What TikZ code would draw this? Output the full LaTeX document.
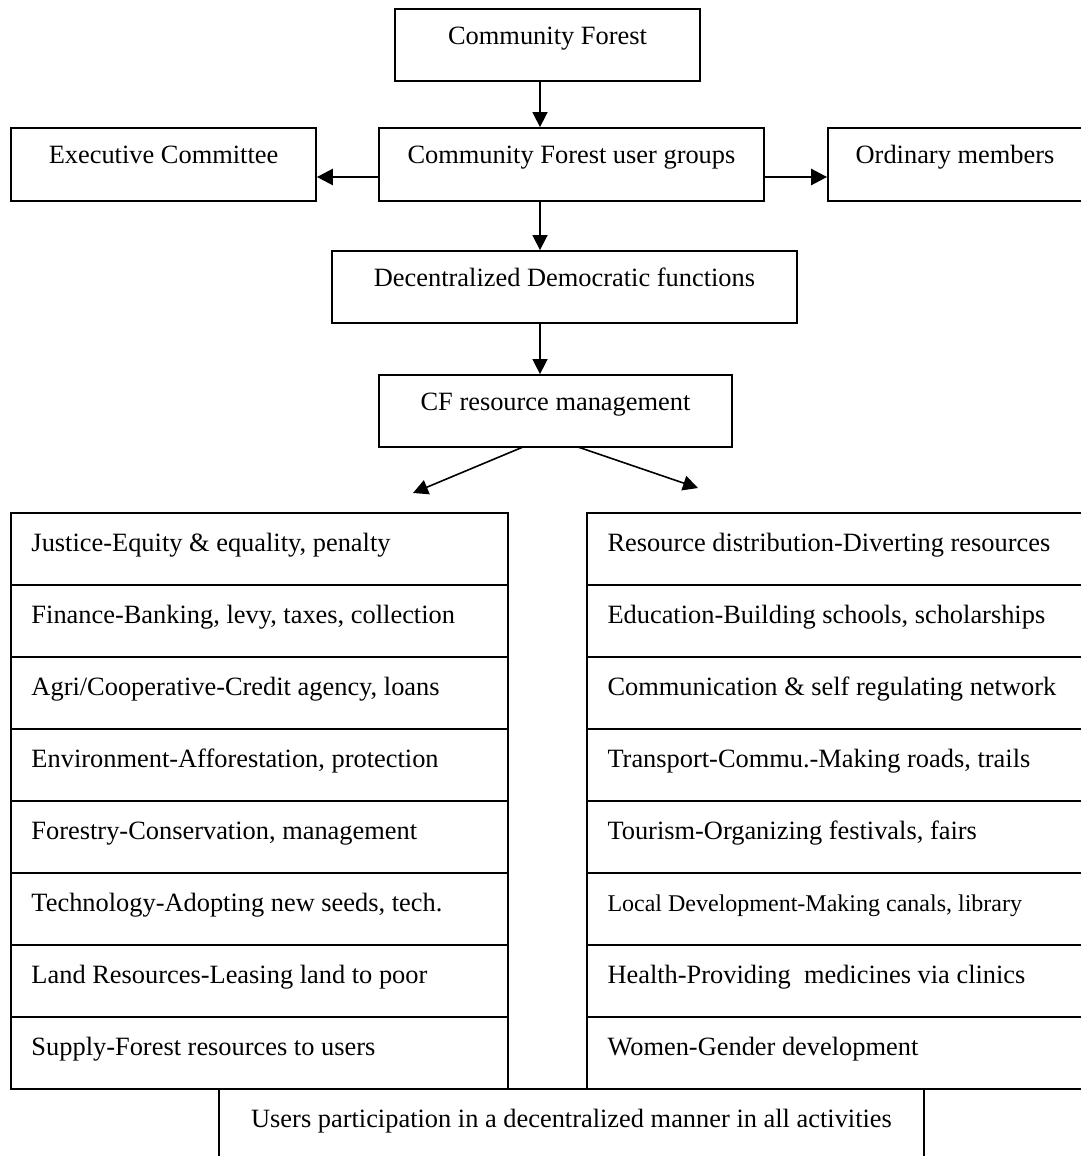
\documentclass[tikz,border=0pt]{standalone}
\usepackage{fontspec}
\setmainfont{Liberation Serif}
\usetikzlibrary{arrows.meta,fit,calc}
\begin{document}
\begin{tikzpicture}[x=0.5pt,y=-0.5pt,
  box/.style={draw, line width=0.9pt, inner sep=0pt, rectangle},
  txt/.style={anchor=base, inner sep=0pt, font=\fontsize{13.2}{15}\selectfont},
  rowtxt/.style={anchor=base west, inner sep=0pt, font=\fontsize{13.2}{15}\selectfont},
  smalltxt/.style={rowtxt, font=\fontsize{12}{14}\selectfont},
  arr/.style={-{Triangle[length=7.5pt,width=7.5pt]}, line width=0.8pt},
  sidearr/.style={-{Triangle[length=8pt,width=8pt]}, line width=1.3pt}]
\useasboundingbox (0,0) rectangle (1081,1156);

% upper chain of boxes
\node[box, fit={(395,9) (700,81)}] (cf) {};
\node[txt] (cft) at ($(cf.north)+(0,36)$) {Community Forest};
\node[box, fit={(11,128) (316,201)}] (ec) {};
\node[txt] (ect) at ($(ec.north)+(0,36)$) {Executive Committee};
\node[box, fit={(379,128) (764,201)}] (ug) {};
\node[txt] (ugt) at ($(ug.north)+(0,36)$) {Community Forest user groups};
\node[box, fit={(828,128) (1082,201)}] (om) {};
\node[txt] (omt) at ($(om.north)+(0,36)$) {Ordinary members};
\node[box, fit={(332,251) (797,323)}] (ddf) {};
\node[txt] (ddft) at ($(ddf.north)+(0,36)$) {Decentralized Democratic functions};
\node[box, fit={(379,375) (732,447)}] (crm) {};
\node[txt] (crmt) at ($(crm.north)+(0,36)$) {CF resource management};

% connectors
\coordinate (axis) at (540,0);
\draw[arr] (cf.south -| axis) -- (ug.north -| axis);
\draw[arr] (ug.south -| axis) -- (ddf.north -| axis);
\draw[arr] (ddf.south -| axis) -- (crm.north -| axis);
\coordinate (ay) at (0,177);
\draw[sidearr] (ug.west |- ay) -- (ec.east |- ay);
\draw[sidearr] (ug.east |- ay) -- (om.west |- ay);
\coordinate (ls) at (523,447);
\coordinate (le) at (413,493);
\coordinate (rs) at (578,447);
\coordinate (re) at (698,488);
\draw[arr] (ls) -- (le);
\draw[arr] (rs) -- (re);

% left column of activities
\node[box, fit={(11,513) (508,585)}] (l1) {};
\node[box, fit={(11,585) (508,657)}] (l2) {};
\node[box, fit={(11,657) (508,729)}] (l3) {};
\node[box, fit={(11,729) (508,801)}] (l4) {};
\node[box, fit={(11,801) (508,873)}] (l5) {};
\node[box, fit={(11,873) (508,945)}] (l6) {};
\node[box, fit={(11,945) (508,1017)}] (l7) {};
\node[box, fit={(11,1017) (508,1089)}] (l8) {};
\node[rowtxt] (l1t) at ($(l1.north west)+(21,39)$) {Justice-Equity \& equality, penalty};
\node[rowtxt] (l2t) at ($(l2.north west)+(21,39)$) {Finance-Banking, levy, taxes, collection};
\node[rowtxt] (l3t) at ($(l3.north west)+(21,39)$) {Agri/Cooperative-Credit agency, loans};
\node[rowtxt] (l4t) at ($(l4.north west)+(21,39)$) {Environment-Afforestation, protection};
\node[rowtxt] (l5t) at ($(l5.north west)+(21,39)$) {Forestry-Conservation, management};
\node[rowtxt] (l6t) at ($(l6.north west)+(21,39)$) {Technology-Adopting new seeds, tech.};
\node[rowtxt] (l7t) at ($(l7.north west)+(21,39)$) {Land Resources-Leasing land to poor};
\node[rowtxt] (l8t) at ($(l8.north west)+(21,39)$) {Supply-Forest resources to users};

% right column of activities
\node[box, fit={(587,513) (1082,585)}] (r1) {};
\node[box, fit={(587,585) (1082,657)}] (r2) {};
\node[box, fit={(587,657) (1082,729)}] (r3) {};
\node[box, fit={(587,729) (1082,801)}] (r4) {};
\node[box, fit={(587,801) (1082,873)}] (r5) {};
\node[box, fit={(587,873) (1082,945)}] (r6) {};
\node[box, fit={(587,945) (1082,1017)}] (r7) {};
\node[box, fit={(587,1017) (1082,1089)}] (r8) {};
\node[rowtxt] (r1t) at ($(r1.north west)+(21,39)$) {Resource distribution-Diverting resources};
\node[rowtxt] (r2t) at ($(r2.north west)+(21,39)$) {Education-Building schools, scholarships};
\node[rowtxt] (r3t) at ($(r3.north west)+(21,39)$) {Communication \& self regulating network};
\node[rowtxt] (r4t) at ($(r4.north west)+(21,39)$) {Transport-Commu.-Making roads, trails};
\node[rowtxt] (r5t) at ($(r5.north west)+(21,39)$) {Tourism-Organizing festivals, fairs};
\node[smalltxt] (r6t) at ($(r6.north west)+(21,39)$) {Local Development-Making canals, library};
\node[rowtxt] (r7t) at ($(r7.north west)+(21,39)$) {Health-Providing\ \ medicines via clinics};
\node[rowtxt] (r8t) at ($(r8.north west)+(21,39)$) {Women-Gender development};

% closing box, running past the lower edge
\node[box, fit={(219,1089) (924,1170)}] (up) {};
\node[txt] (upt) at ($(up.north)+(0,39)$) {Users participation in a decentralized manner in all activities};
\end{tikzpicture}
\end{document}
